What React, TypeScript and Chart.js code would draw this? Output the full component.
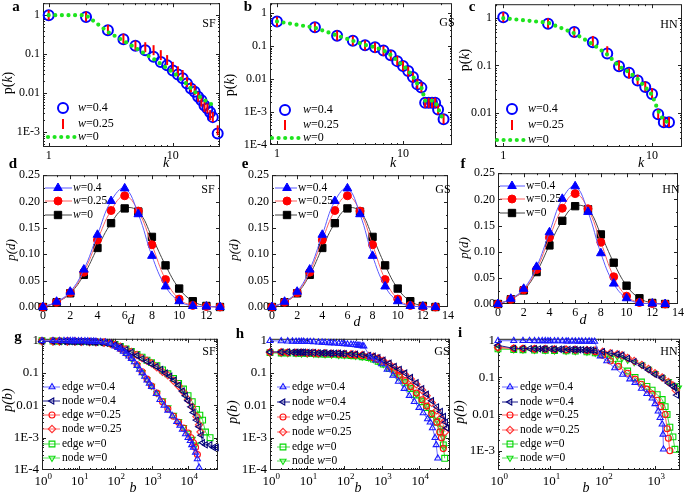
import React, { useEffect, useRef } from 'react';
import { Chart, registerables } from 'chart.js';

Chart.register(...registerables);

const FONT = "'Liberation Serif', 'Times New Roman', Times, serif";
const PADL = 48, PADT = 10, PADR = 10, PADB = 24;

// ---------------- Row 1: degree distribution p(k) ----------------
const A_K_W04 = [1, 2, 3, 4, 5, 6, 7, 8, 9, 10, 11, 12, 13, 14, 15, 16, 17, 18, 19, 20, 21, 23];
const A_P_W04 = [1, 0.9, 0.41, 0.24, 0.163, 0.126, 0.085, 0.063, 0.052, 0.038, 0.03, 0.024, 0.0175, 0.013, 0.0107, 0.008, 0.0065, 0.0048, 0.004, 0.0032, 0.0024, 0.00091];
const A_K_W025 = [1, 2, 3, 4, 5, 6, 7, 8, 9, 10, 11, 12, 13, 14, 15, 16, 17, 18, 19, 20, 21, 23];
const A_P_W025 = [1, 0.92, 0.42, 0.25, 0.165, 0.15, 0.126, 0.094, 0.07, 0.047, 0.036, 0.029, 0.019, 0.014, 0.012, 0.008, 0.006, 0.0044, 0.004, 0.0027, 0.0024, 0.0011];
const A_K_W0 = [1, 2, 3, 4, 5, 6, 7, 8, 9, 10, 11, 12, 13, 14, 15, 16, 17, 18, 19, 20, 21, 22];
const A_P_W0 = [1, 1, 0.37, 0.22, 0.145, 0.1, 0.075, 0.056, 0.043, 0.034, 0.027, 0.021, 0.017, 0.013, 0.011, 0.0085, 0.0075, 0.0066, 0.006, 0.0054, 0.0049, 0.0044];

const B_K_W04 = [1, 2, 3, 4, 5, 6, 7, 8, 9, 10, 11, 12, 13, 14, 15, 16, 17, 18, 19, 21];
const B_P_W04 = [0.56, 0.37, 0.207, 0.146, 0.106, 0.092, 0.073, 0.053, 0.035, 0.025, 0.0175, 0.0115, 0.0069, 0.0055, 0.0019, 0.0019, 0.0019, 0.0019, 0.0012, 0.0006];
const B_K_W025 = [1, 2, 3, 4, 5, 6, 7, 8, 9, 10, 11, 12, 13, 14, 15, 16, 17, 18, 19, 21];
const B_P_W025 = [0.55, 0.37, 0.21, 0.145, 0.105, 0.09, 0.072, 0.052, 0.036, 0.025, 0.017, 0.0112, 0.007, 0.0056, 0.0019, 0.0019, 0.0019, 0.0019, 0.0012, 0.00062];
const B_K_W0 = [1, 2, 3, 4, 5, 6, 7, 8, 9, 10, 11, 12, 13, 14, 15, 16, 17, 18, 19, 20, 21];
const B_P_W0 = [0.56, 0.36, 0.21, 0.145, 0.108, 0.092, 0.075, 0.054, 0.036, 0.026, 0.018, 0.012, 0.0072, 0.0056, 0.0022, 0.0022, 0.0022, 0.0021, 0.0013, 0.0008, 0.00058];

const C_K_W04 = [1, 2, 3, 4, 5, 6, 7, 8, 9, 10, 11, 12, 13];
const C_P_W04 = [1.05, 0.76, 0.51, 0.31, 0.18, 0.096, 0.07, 0.048, 0.035, 0.025, 0.0093, 0.0063, 0.0063];
const C_K_W025 = [1, 2, 3, 4, 5, 6, 7, 8, 9, 10, 11, 12, 13];
const C_P_W025 = [1.05, 0.78, 0.5, 0.33, 0.2, 0.1, 0.068, 0.05, 0.036, 0.026, 0.0095, 0.0064, 0.0064];
const C_K_W0 = [1, 2, 3, 4, 5, 6, 7, 8, 9, 10, 11, 12, 13];
const C_P_W0 = [1.0, 0.8, 0.48, 0.28, 0.17, 0.096, 0.072, 0.052, 0.035, 0.024, 0.011, 0.0068, 0.0063];

// ---------------- Row 2: distance distribution p(d) ----------------
const D_VALUES = [0, 1, 2, 3, 4, 5, 6, 7, 8, 9, 10, 11, 12, 13];
const PD_W04 = [0, 0.01, 0.029, 0.071, 0.137, 0.201, 0.225, 0.176, 0.097, 0.039, 0.011, 0.002, 0.001, 0];
const PD_W025 = [0, 0.009, 0.027, 0.066, 0.127, 0.183, 0.211, 0.182, 0.118, 0.052, 0.015, 0.003, 0.001, 0];
const PD_W0 = [0, 0.009, 0.026, 0.061, 0.112, 0.159, 0.187, 0.181, 0.133, 0.079, 0.035, 0.011, 0.002, 0];

// ---------------- Row 3: betweenness distribution p(b) ----------------
// SF
const G_EDGE04_B = [1, 2, 3, 4, 5, 6, 7, 8, 10, 12, 15, 18, 22, 26, 30, 40, 55, 75, 100, 120, 140, 170, 200, 240, 280, 340, 400, 470, 550, 650, 750, 870, 1000, 1350, 1700, 2200, 2800, 3700, 4900, 6000, 7000, 8500, 10000, 11500, 12600, 14000, 16000, 18000, 20000];
const G_EDGE04_P = [1, 1, 1, 1, 1, 0.99, 0.99, 0.99, 0.98, 0.98, 0.98, 0.97, 0.96, 0.96, 0.95, 0.93, 0.9, 0.82, 0.68, 0.61, 0.55, 0.47, 0.4, 0.33, 0.28, 0.22, 0.17, 0.13, 0.1, 0.078, 0.06, 0.048, 0.038, 0.023, 0.015, 0.01, 0.007, 0.0047, 0.0031, 0.0024, 0.0018, 0.0013, 0.001, 0.0008, 0.0006, 0.0005, 0.00035, 0.00022, 0.00012];
const G_NODE04_B = [1, 2, 3, 4, 5, 6, 7, 8, 10, 12, 15, 18, 22, 26, 30, 40, 55, 75, 100, 140, 200, 280, 400, 550, 750, 1000, 1350, 1800, 2400, 3200, 4200, 5500, 7000, 8500, 10000, 12000, 14000, 17000, 20000, 23000, 25000, 30000, 40000, 50000, 60000];
const G_NODE04_P = [0.95, 0.95, 0.95, 0.95, 0.95, 0.94, 0.94, 0.94, 0.93, 0.93, 0.93, 0.92, 0.91, 0.91, 0.9, 0.88, 0.85, 0.8, 0.74, 0.64, 0.53, 0.44, 0.35, 0.28, 0.23, 0.19, 0.16, 0.13, 0.1, 0.08, 0.06, 0.042, 0.028, 0.02, 0.014, 0.009, 0.006, 0.0035, 0.0022, 0.0012, 0.0007, 0.0006, 0.0006, 0.0005, 0.0005];
const G_EDGE025_B = [1, 2, 3, 5, 8, 12, 20, 30, 50, 75, 100, 140, 200, 280, 400, 550, 750, 1000, 1400, 2000, 2800, 4000, 5500, 7500, 10000, 12000, 14000, 16000, 18000];
const G_EDGE025_P = [1, 1, 1, 0.99, 0.98, 0.97, 0.96, 0.95, 0.92, 0.84, 0.72, 0.57, 0.42, 0.3, 0.18, 0.11, 0.065, 0.04, 0.024, 0.013, 0.0078, 0.0046, 0.003, 0.002, 0.0014, 0.001, 0.0007, 0.0005, 0.0003];
const G_NODE025_B = [1, 2, 3, 5, 8, 12, 20, 30, 50, 75, 100, 140, 200, 280, 400, 550, 750, 1000, 1400, 2000, 2800, 4000, 5500, 7500, 10000, 13000, 17000, 20000, 22000];
const G_NODE025_P = [0.96, 0.95, 0.95, 0.95, 0.94, 0.93, 0.92, 0.9, 0.87, 0.81, 0.75, 0.65, 0.54, 0.45, 0.36, 0.29, 0.24, 0.2, 0.15, 0.11, 0.085, 0.058, 0.04, 0.026, 0.015, 0.009, 0.0045, 0.0025, 0.0015];
const G_EDGE0_B = [1, 2, 3, 5, 8, 12, 20, 30, 50, 75, 100, 140, 200, 280, 400, 550, 750, 1000, 1400, 2000, 2800, 4000, 5500, 7500, 10000, 13000, 17000, 21000, 25000, 30000, 40000];
const G_EDGE0_P = [1, 0.98, 0.97, 0.96, 0.95, 0.94, 0.93, 0.91, 0.88, 0.83, 0.77, 0.67, 0.56, 0.47, 0.38, 0.31, 0.25, 0.21, 0.17, 0.125, 0.095, 0.068, 0.048, 0.032, 0.02, 0.013, 0.0075, 0.005, 0.0035, 0.0015, 0.001];
const G_NODE0_B = [1, 2, 3, 5, 8, 12, 20, 30, 50, 75, 100, 140, 200, 280, 400, 550, 750, 1000, 1400, 2000, 2800, 4000, 5500, 7500, 10000, 13000, 16000];
const G_NODE0_P = [0.97, 0.96, 0.96, 0.95, 0.95, 0.94, 0.93, 0.92, 0.89, 0.82, 0.7, 0.56, 0.41, 0.29, 0.175, 0.105, 0.063, 0.04, 0.024, 0.014, 0.0085, 0.005, 0.0032, 0.0021, 0.0014, 0.0009, 0.0006];

// GS
const H_EDGE04_B = [1, 2, 3, 4, 5, 6, 7, 8, 10, 12, 15, 20, 25, 30, 38, 45, 55, 70, 85, 100, 120, 150, 175, 200, 230, 260, 300, 330, 500, 700, 1000, 1400, 2000, 2800, 4000, 5500, 7500, 10000, 13000, 17000, 20000, 23000, 27000, 29000, 32000];
const H_EDGE04_P = [1, 0.98, 0.97, 0.96, 0.95, 0.95, 0.94, 0.94, 0.93, 0.93, 0.92, 0.9, 0.89, 0.87, 0.86, 0.85, 0.84, 0.82, 0.81, 0.8, 0.78, 0.77, 0.75, 0.74, 0.72, 0.71, 0.69, 0.68, 0.31, 0.25, 0.19, 0.13, 0.085, 0.055, 0.033, 0.02, 0.013, 0.0085, 0.0058, 0.0038, 0.003, 0.002, 0.001, 0.0006, 0.00023];
const H_NODE04_B = [1, 2, 3, 4, 5, 6, 7, 8, 10, 12, 15, 20, 25, 30, 38, 45, 55, 70, 85, 100, 150, 200, 300, 450, 600, 800, 1100, 1600, 2200, 3000, 4200, 6000, 8500, 12000, 16000, 22000, 30000, 38000, 46000, 52000, 56000];
const H_NODE04_P = [0.45, 0.45, 0.45, 0.44, 0.44, 0.44, 0.44, 0.44, 0.43, 0.43, 0.43, 0.42, 0.42, 0.42, 0.41, 0.41, 0.41, 0.41, 0.4, 0.4, 0.39, 0.38, 0.37, 0.35, 0.33, 0.3, 0.25, 0.2, 0.16, 0.13, 0.1, 0.073, 0.05, 0.033, 0.022, 0.014, 0.009, 0.0065, 0.0045, 0.003, 0.002];
const H_EDGE025_B = [1, 2, 3, 5, 7, 10, 15, 20, 30, 45, 70, 100, 150, 200, 300, 450, 600, 800, 1100, 1600, 2200, 3000, 4200, 6000, 8500, 12000, 16000, 22000, 30000, 36000, 40000, 45000];
const H_EDGE025_P = [0.44, 0.44, 0.44, 0.43, 0.43, 0.42, 0.42, 0.41, 0.41, 0.4, 0.39, 0.38, 0.37, 0.36, 0.35, 0.33, 0.3, 0.26, 0.22, 0.16, 0.12, 0.085, 0.058, 0.038, 0.024, 0.015, 0.0095, 0.0055, 0.003, 0.0015, 0.001, 0.00046];
const H_NODE025_B = [1, 2, 3, 5, 7, 10, 15, 20, 30, 45, 70, 100, 150, 200, 300, 450, 600, 800, 1100, 1600, 2200, 3000, 4200, 6000, 8500, 12000, 16000, 22000, 30000, 38000, 45000, 50000];
const H_NODE025_P = [0.44, 0.44, 0.43, 0.43, 0.43, 0.42, 0.42, 0.41, 0.41, 0.4, 0.4, 0.39, 0.38, 0.37, 0.36, 0.34, 0.32, 0.29, 0.24, 0.19, 0.15, 0.12, 0.09, 0.065, 0.045, 0.03, 0.02, 0.012, 0.007, 0.004, 0.0025, 0.0015];
const H_EDGE0_B = [1, 2, 3, 5, 7, 10, 15, 20, 30, 45, 70, 100, 150, 200, 300, 450, 600, 800, 1100, 1600, 2200, 3000, 4200, 6000, 8500, 12000, 16000, 22000, 30000, 38000, 45000, 49000];
const H_EDGE0_P = [0.43, 0.42, 0.42, 0.41, 0.41, 0.4, 0.4, 0.39, 0.38, 0.38, 0.37, 0.36, 0.35, 0.34, 0.32, 0.3, 0.27, 0.23, 0.19, 0.14, 0.105, 0.075, 0.05, 0.033, 0.021, 0.013, 0.0085, 0.0052, 0.003, 0.0015, 0.0006, 0.00023];
const H_NODE0_B = [1, 2, 3, 5, 7, 10, 15, 20, 30, 45, 70, 100, 150, 200, 300, 450, 600, 800, 1100, 1600, 2200, 3000, 4200, 6000, 8500, 12000, 16000, 22000, 30000, 38000, 45000, 47000];
const H_NODE0_P = [0.42, 0.42, 0.41, 0.41, 0.4, 0.4, 0.39, 0.39, 0.38, 0.37, 0.36, 0.36, 0.35, 0.34, 0.32, 0.3, 0.27, 0.23, 0.19, 0.145, 0.11, 0.08, 0.055, 0.036, 0.023, 0.015, 0.0095, 0.006, 0.0035, 0.002, 0.001, 0.0005];

// HN
const I_EDGE04_B = [1, 2, 3, 4, 5, 6, 7, 8, 9, 10, 12, 14, 17, 20, 22, 26, 30, 35, 40, 47, 55, 62, 70, 90, 120, 170, 240, 330, 415, 550, 700, 880, 1000, 1150, 1250, 1370, 1420, 1450];
const I_EDGE04_P = [1, 1, 1, 1, 0.99, 0.99, 0.99, 0.99, 0.98, 0.98, 0.98, 0.98, 0.98, 0.97, 0.97, 0.97, 0.97, 0.96, 0.96, 0.96, 0.96, 0.95, 0.95, 0.38, 0.28, 0.18, 0.12, 0.09, 0.072, 0.05, 0.036, 0.027, 0.019, 0.012, 0.008, 0.0053, 0.0028, 0.0011];
const I_NODE04_B = [1, 2, 3, 4, 5, 6, 7, 8, 10, 12, 15, 17, 22, 26, 30, 35, 40, 47, 55, 62, 72, 100, 140, 190, 235, 300, 400, 560, 750, 1000, 1370, 1800, 2200, 2400, 2600];
const I_NODE04_P = [0.75, 0.62, 0.62, 0.61, 0.61, 0.6, 0.6, 0.6, 0.6, 0.59, 0.59, 0.59, 0.58, 0.58, 0.58, 0.57, 0.57, 0.56, 0.56, 0.55, 0.54, 0.5, 0.46, 0.43, 0.4, 0.33, 0.27, 0.21, 0.16, 0.12, 0.096, 0.07, 0.058, 0.052, 0.033];
const I_EDGE025_B = [1, 2, 3, 5, 8, 12, 20, 30, 50, 72, 100, 140, 200, 300, 415, 550, 700, 880, 1100, 1300, 1560, 1700, 1800, 1920];
const I_EDGE025_P = [0.66, 0.62, 0.61, 0.6, 0.59, 0.58, 0.57, 0.56, 0.54, 0.5, 0.4, 0.28, 0.2, 0.13, 0.09, 0.065, 0.048, 0.035, 0.024, 0.016, 0.0098, 0.004, 0.0022, 0.001];
const I_NODE025_B = [1, 2, 3, 5, 8, 12, 20, 30, 50, 72, 100, 140, 190, 235, 300, 400, 560, 750, 1000, 1370, 1800, 2200, 2500];
const I_NODE025_P = [0.65, 0.62, 0.61, 0.6, 0.6, 0.59, 0.58, 0.57, 0.56, 0.54, 0.5, 0.46, 0.43, 0.4, 0.34, 0.28, 0.22, 0.17, 0.13, 0.1, 0.075, 0.06, 0.045];
const I_EDGE0_B = [1, 2, 3, 5, 8, 12, 20, 30, 50, 72, 100, 140, 200, 300, 415, 550, 700, 880, 1100, 1370, 1560, 1700, 1920, 2200, 2400];
const I_EDGE0_P = [0.6, 0.58, 0.57, 0.56, 0.55, 0.54, 0.53, 0.52, 0.5, 0.47, 0.42, 0.32, 0.23, 0.15, 0.1, 0.075, 0.057, 0.045, 0.034, 0.025, 0.016, 0.0098, 0.0044, 0.0024, 0.0011];
const I_NODE0_B = [1, 2, 3, 5, 8, 12, 20, 30, 50, 72, 100, 140, 190, 235, 300, 400, 560, 750, 1000, 1370, 1800, 2400, 2800];
const I_NODE0_P = [0.6, 0.58, 0.57, 0.56, 0.55, 0.54, 0.53, 0.52, 0.5, 0.47, 0.43, 0.4, 0.37, 0.34, 0.3, 0.26, 0.22, 0.17, 0.13, 0.1, 0.078, 0.06, 0.052];

// ---------------- tick values / labels ----------------
const LOG_Y_VALUES = [1, 0.1, 0.01, 0.001, 0.0001];
const LOG_Y_LABELS = ['1', '0.1', '0.01', '1E-3', '1E-4'];
const K_TICKS = [1, 10];
const D_TICKS_13 = [0, 2, 4, 6, 8, 10, 12];
const D_TICKS_14 = [0, 2, 4, 6, 8, 10, 12, 14];
const PD_TICKS = [0, 0.05, 0.1, 0.15, 0.2, 0.25];
const B_TICKS_5 = [1, 10, 100, 1000, 10000];
const B_TICKS_4 = [1, 10, 100, 1000];

const BLUE = '#0000ff', RED = '#ff0000', GREEN = '#1ee41e', BLACK = '#000000';

type Pt = { x: number; y: number };
const pts = (xs: number[], ys: number[]): Pt[] => xs.map((x, i) => ({ x, y: ys[i] }));

const logYLabel = (v: number) => {
  const i = LOG_Y_VALUES.findIndex((t) => Math.abs(t - v) / t < 1e-6);
  return i >= 0 ? LOG_Y_LABELS[i] : '';
};

// ---- dataset builders ----
const dsDotted = (xs: number[], ys: number[]) => ({
  data: pts(xs, ys), showLine: true, borderColor: GREEN, borderWidth: 4.2, borderDash: [0, 6.6],
  borderCapStyle: 'round', borderJoinStyle: 'round', pointRadius: 0, clip: false,
});
const dsBar = (xs: number[], ys: number[]) => ({
  data: pts(xs, ys), showLine: false, pointStyle: 'line', pointRotation: 90, pointRadius: 5,
  pointBorderColor: RED, pointBackgroundColor: RED, pointBorderWidth: 2, borderColor: RED, clip: false,
});
const dsRing = (xs: number[], ys: number[]) => ({
  data: pts(xs, ys), showLine: false, pointStyle: 'circle', pointRadius: 5, pointRotation: 0,
  pointBorderColor: BLUE, pointBackgroundColor: 'rgba(0,0,0,0)', pointBorderWidth: 2, borderColor: BLUE, clip: false,
});
const dsFit = (ys: number[], line: string, mark: string, style: string, r: number) => ({
  data: pts(D_VALUES, ys), showLine: true, borderColor: line, borderWidth: 1, tension: 0.42,
  pointStyle: style, pointRotation: 0, pointRadius: r, pointBackgroundColor: mark, pointBorderColor: mark,
  pointBorderWidth: 1, clip: false,
});
const dsBet = (xs: number[], ys: number[], mark: string, line: string, style: string, rot: number, r: number) => ({
  data: pts(xs, ys), showLine: true, borderColor: line, borderWidth: 1, pointStyle: style, pointRotation: rot,
  pointRadius: r, pointBackgroundColor: 'rgba(255,255,255,0)', pointBorderColor: mark, pointBorderWidth: 1.1, clip: false,
});

const E04 = ['#1a1aff', '#6f6fff'];
const N04 = ['#00007a', '#1a1a8a'];
const E025 = ['#ff1010', '#ff5a5a'];
const N025 = ['#ff3030', '#ff6a6a'];
const E0 = ['#00d800', '#4ad84a'];
const N0 = ['#10dd10', '#5ae05a'];

const betSet = (d: number[][]) => [
  dsBet(d[0], d[1], E04[0], E04[1], 'triangle', 0, 3.5),
  dsBet(d[2], d[3], N04[0], N04[1], 'triangle', -90, 3.5),
  dsBet(d[4], d[5], E025[0], E025[1], 'circle', 0, 3),
  dsBet(d[6], d[7], N025[0], N025[1], 'rectRot', 0, 3.7),
  dsBet(d[8], d[9], E0[0], E0[1], 'rect', 0, 4.1),
  dsBet(d[10], d[11], N0[0], N0[1], 'triangle', 180, 3.5),
];

interface LegendItem { ds: number; kind: 'marker' | 'dotted' | 'lineMarker'; y: number; x0?: number; x1?: number; mx?: number; tx: number; label: string }
interface Panel {
  key: string; l: number; t: number; r: number; b: number;
  xType: string; xMin: number; xMax: number; xMajor: number[]; xLabel?: (v: number) => string; xSup?: boolean;
  yType: string; yMin: number; yMax: number; yMajor: number[]; yLabel: (v: number) => string;
  tickFont: number; legendFont: number; italicW: boolean;
  datasets: any[]; legend: LegendItem[];
}

const row1Legend = (mx: number, tx: number, x0: number, x1: number, ys: number[]): LegendItem[] => [
  { ds: 2, kind: 'marker', mx, y: ys[0], tx, label: 'w=0.4' },
  { ds: 1, kind: 'marker', mx, y: ys[1], tx, label: 'w=0.25' },
  { ds: 0, kind: 'dotted', x0, x1, y: ys[2], tx, label: 'w=0' },
];
const row2Legend = (x0: number, x1: number, mx: number, tx: number, ys: number[]): LegendItem[] => [
  { ds: 0, kind: 'lineMarker', x0, x1, mx, y: ys[0], tx, label: 'w=0.4' },
  { ds: 1, kind: 'lineMarker', x0, x1, mx, y: ys[1], tx, label: 'w=0.25' },
  { ds: 2, kind: 'lineMarker', x0, x1, mx, y: ys[2], tx, label: 'w=0' },
];
const ROW3_LABELS = ['edge w=0.4', 'node w=0.4', 'edge w=0.25', 'node w=0.25', 'edge w=0', 'node w=0'];
const row3Legend = (x0: number, x1: number, mx: number, tx: number, ys: number[]): LegendItem[] =>
  ROW3_LABELS.map((label, i) => ({ ds: i, kind: 'lineMarker', x0, x1, mx, y: ys[i], tx, label }));

const kLabel = (v: number) => String(v);
const dLabel = (v: number) => String(v);
const pdLabel = (v: number) => v.toFixed(2);

const PANELS: Panel[] = [
  {
    key: 'a', l: 43, t: 3, r: 220, b: 147, xType: 'logarithmic', xMin: 0.9, xMax: 24, xMajor: K_TICKS, xLabel: kLabel,
    yType: 'logarithmic', yMin: 4.1e-4, yMax: 2.03, yMajor: [1, 0.1, 0.01, 0.001], yLabel: logYLabel,
    tickFont: 12, legendFont: 12, italicW: true,
    datasets: [dsDotted(A_K_W0, A_P_W0), dsBar(A_K_W025, A_P_W025), dsRing(A_K_W04, A_P_W04)],
    legend: row1Legend(63, 78, 48, 75, [108, 124, 137]),
  },
  {
    key: 'b', l: 270, t: 3, r: 452, b: 145, xType: 'logarithmic', xMin: 0.88, xMax: 24.5, xMajor: K_TICKS, xLabel: kLabel,
    yType: 'logarithmic', yMin: 1e-4, yMax: 2.0, yMajor: [1, 0.1, 0.01, 0.001, 0.0001], yLabel: logYLabel,
    tickFont: 12, legendFont: 12, italicW: true,
    datasets: [dsDotted(B_K_W0, B_P_W0), dsBar(B_K_W025, B_P_W025), dsRing(B_K_W04, B_P_W04)],
    legend: row1Legend(285, 303, 272, 302, [110, 125, 138]),
  },
  {
    key: 'c', l: 495, t: 4, r: 682, b: 147, xType: 'logarithmic', xMin: 0.88, xMax: 15.9, xMajor: K_TICKS, xLabel: kLabel,
    yType: 'logarithmic', yMin: 0.0019, yMax: 1.97, yMajor: [1, 0.1, 0.01], yLabel: logYLabel,
    tickFont: 12, legendFont: 12, italicW: true,
    datasets: [dsDotted(C_K_W0, C_P_W0), dsBar(C_K_W025, C_P_W025), dsRing(C_K_W04, C_P_W04)],
    legend: row1Legend(512, 528, 497, 526, [109, 125, 140]),
  },
  {
    key: 'd', l: 43, t: 175, r: 220, b: 307, xType: 'linear', xMin: 0, xMax: 13, xMajor: D_TICKS_13, xLabel: dLabel,
    yType: 'linear', yMin: 0, yMax: 0.25, yMajor: PD_TICKS, yLabel: pdLabel,
    tickFont: 12, legendFont: 11.5, italicW: true,
    datasets: [dsFit(PD_W04, '#5a5aff', BLUE, 'triangle', 5), dsFit(PD_W025, '#ff6060', RED, 'circle', 4), dsFit(PD_W0, '#444444', BLACK, 'rect', 5.2)],
    legend: row2Legend(45, 72, 58, 73, [188, 201, 215]),
  },
  {
    key: 'e', l: 272, t: 175, r: 448, b: 307, xType: 'linear', xMin: 0, xMax: 14, xMajor: D_TICKS_14, xLabel: dLabel,
    yType: 'linear', yMin: 0, yMax: 0.25, yMajor: PD_TICKS, yLabel: pdLabel,
    tickFont: 12, legendFont: 11.5, italicW: false,
    datasets: [dsFit(PD_W04, '#5a5aff', BLUE, 'triangle', 5), dsFit(PD_W025, '#ff6060', RED, 'circle', 4), dsFit(PD_W0, '#444444', BLACK, 'rect', 5.2)],
    legend: row2Legend(275, 297, 287, 298, [188, 201, 215]),
  },
  {
    key: 'f', l: 498, t: 173, r: 678, b: 304, xType: 'linear', xMin: 0, xMax: 14, xMajor: D_TICKS_14, xLabel: dLabel,
    yType: 'linear', yMin: 0, yMax: 0.25, yMajor: PD_TICKS, yLabel: pdLabel,
    tickFont: 12, legendFont: 11.5, italicW: false,
    datasets: [dsFit(PD_W04, '#5a5aff', BLUE, 'triangle', 5), dsFit(PD_W025, '#ff6060', RED, 'circle', 4), dsFit(PD_W0, '#444444', BLACK, 'rect', 5.2)],
    legend: row2Legend(500, 525, 512, 526, [186, 199, 213]),
  },
  {
    key: 'g', l: 42, t: 338, r: 218, b: 470, xType: 'logarithmic', xMin: 1, xMax: 66000, xMajor: B_TICKS_5, xSup: true,
    yType: 'logarithmic', yMin: 1e-4, yMax: 1.15, yMajor: [1, 0.1, 0.01, 0.001, 0.0001], yLabel: logYLabel,
    tickFont: 13, legendFont: 11.5, italicW: true,
    datasets: betSet([G_EDGE04_B, G_EDGE04_P, G_NODE04_B, G_NODE04_P, G_EDGE025_B, G_EDGE025_P, G_NODE025_B, G_NODE025_P, G_EDGE0_B, G_EDGE0_P, G_NODE0_B, G_NODE0_P]),
    legend: row3Legend(43, 60, 52, 62, [387, 401, 415, 429, 444, 458]),
  },
  {
    key: 'h', l: 270, t: 338, r: 450, b: 470, xType: 'logarithmic', xMin: 1, xMax: 68000, xMajor: B_TICKS_5, xSup: true,
    yType: 'logarithmic', yMin: 1e-4, yMax: 1.15, yMajor: [1, 0.1, 0.01, 0.001, 0.0001], yLabel: logYLabel,
    tickFont: 13, legendFont: 11.5, italicW: true,
    datasets: betSet([H_EDGE04_B, H_EDGE04_P, H_NODE04_B, H_NODE04_P, H_EDGE025_B, H_EDGE025_P, H_NODE025_B, H_NODE025_P, H_EDGE0_B, H_EDGE0_P, H_NODE0_B, H_NODE0_P]),
    legend: row3Legend(277, 290, 283, 292, [387, 402, 417, 432, 447, 461]),
  },
  {
    key: 'i', l: 498, t: 338, r: 680, b: 470, xType: 'logarithmic', xMin: 1, xMax: 3000, xMajor: B_TICKS_4, xSup: true,
    yType: 'logarithmic', yMin: 3.3e-4, yMax: 1.13, yMajor: [1, 0.1, 0.01, 0.001], yLabel: logYLabel,
    tickFont: 13, legendFont: 11.5, italicW: true,
    datasets: betSet([I_EDGE04_B, I_EDGE04_P, I_NODE04_B, I_NODE04_P, I_EDGE025_B, I_EDGE025_P, I_NODE025_B, I_NODE025_P, I_EDGE0_B, I_EDGE0_P, I_NODE0_B, I_NODE0_P]),
    legend: row3Legend(502, 518, 510, 520, [387, 402, 415, 430, 444, 458]),
  },
];

// ---- helpers ----
function minorTicks(type: string, min: number, max: number): number[] {
  const out: number[] = [];
  if (type === 'logarithmic') {
    for (let e = Math.floor(Math.log10(min)) - 1; e <= Math.ceil(Math.log10(max)); e++) {
      for (let m = 2; m <= 9; m++) {
        const v = m * Math.pow(10, e);
        if (v > min && v < max) out.push(v);
      }
    }
  } else {
    const step = max <= 1 ? 0.025 : 1;
    for (let v = min; v <= max + 1e-9; v += step) out.push(v);
  }
  return out;
}

function drawMarker(ctx: CanvasRenderingContext2D, ds: any, x: number, y: number) {
  const style = ds.pointStyle; const r = ds.pointRadius; let rad = ((ds.pointRotation || 0) * Math.PI) / 180;
  ctx.beginPath();
  if (style === 'circle') ctx.arc(x, y, r, 0, Math.PI * 2);
  else if (style === 'triangle') {
    ctx.moveTo(x + Math.sin(rad) * r, y - Math.cos(rad) * r);
    rad += (2 * Math.PI) / 3; ctx.lineTo(x + Math.sin(rad) * r, y - Math.cos(rad) * r);
    rad += (2 * Math.PI) / 3; ctx.lineTo(x + Math.sin(rad) * r, y - Math.cos(rad) * r);
    ctx.closePath();
  } else if (style === 'rect') { const s = Math.SQRT1_2 * r; ctx.rect(x - s, y - s, 2 * s, 2 * s); }
  else if (style === 'rectRot') { ctx.moveTo(x, y - r); ctx.lineTo(x + r, y); ctx.lineTo(x, y + r); ctx.lineTo(x - r, y); ctx.closePath(); }
  else if (style === 'line') { const c = Math.cos(rad) * r, s = Math.sin(rad) * r; ctx.moveTo(x - c, y - s); ctx.lineTo(x + c, y + s); }
  ctx.fillStyle = ds.pointBackgroundColor; ctx.fill();
  ctx.strokeStyle = ds.pointBorderColor; ctx.lineWidth = ds.pointBorderWidth; ctx.stroke();
}

function drawLabel(ctx: CanvasRenderingContext2D, label: string, x: number, y: number, size: number, italicW: boolean) {
  ctx.textBaseline = 'middle'; ctx.textAlign = 'left'; ctx.fillStyle = '#000';
  const idx = italicW ? label.indexOf('w') : -1;
  const parts: [string, boolean][] = idx < 0 ? [[label, false]] : [[label.slice(0, idx), false], ['w', true], [label.slice(idx + 1), false]];
  let cx = x;
  for (const [t, it] of parts) {
    if (!t) continue;
    ctx.font = `${it ? 'italic ' : ''}${size}px ${FONT}`;
    ctx.fillText(t, cx, y);
    cx += ctx.measureText(t).width;
  }
}

function buildConfig(p: Panel, left: number, top: number): any {
  const xMinor = minorTicks(p.xType, p.xMin, p.xMax);
  const yMinor = minorTicks(p.yType, p.yMin, p.yMax);
  const deco = {
    id: 'deco',
    beforeDatasetsDraw(chart: any) {
      const { ctx, chartArea: a, scales } = chart;
      const xs = scales.x, ys = scales.y;
      ctx.save();
      ctx.strokeStyle = '#222'; ctx.lineWidth = 1;
      ctx.strokeRect(a.left + 0.5, a.top + 0.5, a.right - a.left - 1, a.bottom - a.top - 1);
      ctx.beginPath();
      const xt = (vals: number[], len: number) => vals.forEach((v) => {
        const px = Math.round(xs.getPixelForValue(v)) + 0.5;
        if (px < a.left || px > a.right) return;
        ctx.moveTo(px, a.bottom); ctx.lineTo(px, a.bottom - len);
        ctx.moveTo(px, a.top); ctx.lineTo(px, a.top + len);
      });
      const yt = (vals: number[], len: number) => vals.forEach((v) => {
        const py = Math.round(ys.getPixelForValue(v)) + 0.5;
        if (py < a.top || py > a.bottom) return;
        ctx.moveTo(a.left, py); ctx.lineTo(a.left + len, py);
        ctx.moveTo(a.right, py); ctx.lineTo(a.right - len, py);
      });
      xt(p.xMajor, 4); xt(xMinor, 2); yt(p.yMajor, 4); yt(yMinor, 2);
      ctx.stroke();
      ctx.restore();
    },
    afterDraw(chart: any) {
      const { ctx, chartArea: a, scales } = chart;
      ctx.save();
      if (p.xSup) {
        for (const v of p.xMajor) {
          const x = scales.x.getPixelForValue(v);
          const e = String(Math.round(Math.log10(v)));
          ctx.fillStyle = '#000'; ctx.textAlign = 'left'; ctx.textBaseline = 'alphabetic';
          ctx.font = `${p.tickFont}px ${FONT}`; const w1 = ctx.measureText('10').width;
          const start = x - w1 / 2 - 1;
          ctx.fillText('10', start, a.bottom + 15);
          ctx.font = `${Math.round(p.tickFont * 0.7)}px ${FONT}`;
          ctx.fillText(e, start + w1, a.bottom + 9);
        }
      }
      for (const it of p.legend) {
        const ds: any = chart.data.datasets[it.ds];
        const y = it.y - top;
        if (it.kind === 'dotted' || it.kind === 'lineMarker') {
          ctx.beginPath();
          ctx.strokeStyle = ds.borderColor; ctx.lineWidth = ds.borderWidth;
          ctx.setLineDash(ds.borderDash || []); ctx.lineCap = ds.borderCapStyle || 'butt';
          ctx.moveTo((it.x0 as number) - left, y); ctx.lineTo((it.x1 as number) - left, y); ctx.stroke();
          ctx.setLineDash([]); ctx.lineCap = 'butt';
        }
        if (it.kind !== 'dotted') drawMarker(ctx, ds, (it.mx as number) - left, y);
        drawLabel(ctx, it.label, it.tx - left, y, p.legendFont, p.italicW);
      }
      ctx.restore();
    },
  };
  const tickFont = { family: FONT, size: p.tickFont };
  return {
    type: 'line',
    data: { datasets: p.datasets },
    options: {
      animation: false, responsive: false, maintainAspectRatio: false, devicePixelRatio: 1, events: [],
      layout: { padding: { left: 0, top: PADT, right: PADR, bottom: 0 } },
      plugins: { legend: { display: false }, tooltip: { enabled: false } },
      scales: {
        x: {
          type: p.xType, min: p.xMin, max: p.xMax,
          grid: { display: false, drawTicks: false }, border: { display: false },
          ticks: { display: !p.xSup, autoSkip: false, maxRotation: 0, minRotation: 0, padding: 2, color: '#000', font: tickFont,
            callback: (v: any) => (p.xLabel ? p.xLabel(Number(v)) : '') },
          afterBuildTicks: (s: any) => { s.ticks = p.xMajor.map((v) => ({ value: v })); },
          afterFit: (s: any) => { s.height = PADB; },
        },
        y: {
          type: p.yType, min: p.yMin, max: p.yMax,
          grid: { display: false, drawTicks: false }, border: { display: false },
          ticks: { autoSkip: false, padding: 3, color: '#000', font: tickFont, callback: (v: any) => p.yLabel(Number(v)) },
          afterBuildTicks: (s: any) => { s.ticks = p.yMajor.map((v) => ({ value: v })); },
          afterFit: (s: any) => { s.width = PADL; },
        },
      },
    },
    plugins: [deco],
  };
}

function PanelChart({ p }: { p: Panel }) {
  const ref = useRef<HTMLCanvasElement>(null);
  const left = p.l - PADL, top = p.t - PADT;
  const W = p.r - p.l + PADL + PADR, H = p.b - p.t + PADT + PADB;
  useEffect(() => {
    const chart = new Chart(ref.current as HTMLCanvasElement, buildConfig(p, left, top));
    return () => chart.destroy();
  }, [p]);
  return <canvas ref={ref} width={W} height={H} style={{ position: 'absolute', left, top, width: W, height: H }} />;
}

// ---- HTML text overlays ----
type Part = [string, boolean];
interface TextItem { x: number; y: number; parts: Part[]; size: number; bold?: boolean; rot?: boolean }
const T = (s: string): Part => [s, false];
const I = (s: string): Part => [s, true];

const TEXTS: TextItem[] = [
  // panel letters
  { x: 16, y: 6, parts: [T('a')], size: 15, bold: true },
  { x: 248, y: 6, parts: [T('b')], size: 15, bold: true },
  { x: 472, y: 6, parts: [T('c')], size: 15, bold: true },
  { x: 13, y: 163, parts: [T('d')], size: 15, bold: true },
  { x: 245, y: 163, parts: [T('e')], size: 15, bold: true },
  { x: 463, y: 163, parts: [T('f')], size: 15, bold: true },
  { x: 18, y: 336, parts: [T('g')], size: 15, bold: true },
  { x: 240, y: 333, parts: [T('h')], size: 15, bold: true },
  { x: 460, y: 332, parts: [T('i')], size: 15, bold: true },
  // network labels
  { x: 209, y: 23, parts: [T('SF')], size: 12 },
  { x: 447, y: 22, parts: [T('GS')], size: 12 },
  { x: 669, y: 24, parts: [T('HN')], size: 12 },
  { x: 208, y: 189, parts: [T('SF')], size: 12 },
  { x: 443, y: 189, parts: [T('GS')], size: 12 },
  { x: 671, y: 189, parts: [T('HN')], size: 12 },
  { x: 209, y: 351, parts: [T('SF')], size: 12 },
  { x: 442, y: 351, parts: [T('GS')], size: 12 },
  { x: 669, y: 351, parts: [T('HN')], size: 12 },
  // axis titles row 1
  { x: 8, y: 83, parts: [T('p('), I('k'), T(')')], size: 14, rot: true },
  { x: 230, y: 85, parts: [T('p('), I('k'), T(')')], size: 14, rot: true },
  { x: 465, y: 60, parts: [T('p('), I('k'), T(')')], size: 14, rot: true },
  { x: 166, y: 163, parts: [I('k')], size: 14 },
  { x: 393, y: 163, parts: [I('k')], size: 14 },
  { x: 641, y: 163, parts: [I('k')], size: 14 },
  // row 2
  { x: 10, y: 250, parts: [I('p(d)')], size: 13, rot: true },
  { x: 233, y: 250, parts: [I('p(d)')], size: 13, rot: true },
  { x: 463, y: 248, parts: [I('p(d)')], size: 13, rot: true },
  { x: 131, y: 320, parts: [I('d')], size: 14 },
  { x: 357, y: 322, parts: [I('d')], size: 14 },
  { x: 583, y: 320, parts: [I('d')], size: 14 },
  // row 3
  { x: 8, y: 400, parts: [I('p(b)')], size: 14, rot: true },
  { x: 233, y: 412, parts: [I('p(b)')], size: 14, rot: true },
  { x: 460, y: 412, parts: [I('p(b)')], size: 14, rot: true },
  { x: 133, y: 488, parts: [I('b')], size: 14 },
  { x: 358, y: 488, parts: [I('b')], size: 14 },
  { x: 586, y: 488, parts: [I('b')], size: 14 },
];

function Txt({ t }: { t: TextItem }) {
  return (
    <div
      style={{
        position: 'absolute', left: t.x, top: t.y, whiteSpace: 'nowrap', lineHeight: 1,
        transform: `translate(-50%, -50%)${t.rot ? ' rotate(-90deg)' : ''}`,
        fontFamily: FONT, fontSize: t.size, fontWeight: t.bold ? 'bold' : 'normal', color: '#000',
      }}
    >
      {t.parts.map(([s, it], i) => (
        <span key={i} style={{ fontStyle: it ? 'italic' : 'normal' }}>{s}</span>
      ))}
    </div>
  );
}

export default function App() {
  return (
    <div style={{ position: 'fixed', left: 0, top: 0, width: 685, height: 494, background: '#fff', overflow: 'hidden' }}>
      {PANELS.map((p) => <PanelChart key={p.key} p={p} />)}
      {TEXTS.map((t, i) => <Txt key={i} t={t} />)}
    </div>
  );
}
